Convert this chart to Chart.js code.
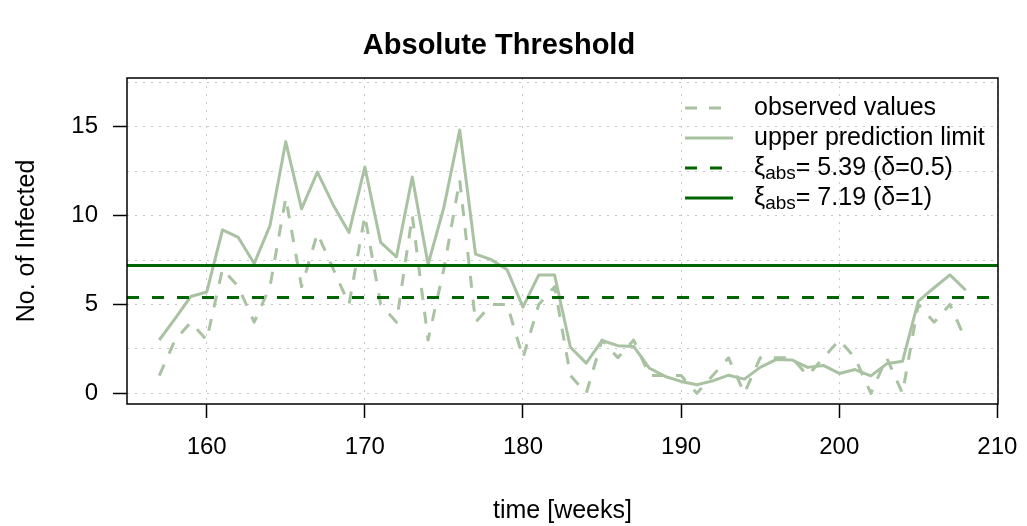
<!DOCTYPE html>
<html>
<head>
<meta charset="utf-8">
<title>Absolute Threshold</title>
<script src="https://cdn.jsdelivr.net/npm/chart.js@4"></script>
<style>
  html, body { margin: 0; padding: 0; background: #fff; }
</style>
</head>
<body>
<canvas id="my-chart" width="1027" height="526"></canvas>
<script>
'use strict';

//***********Data***********
let weeks = [157, 158, 159, 160, 161, 162, 163, 164, 165, 166, 167, 168, 169,
  170, 171, 172, 173, 174, 175, 176, 177, 178, 179, 180, 181, 182, 183,
  184, 185, 186, 187, 188, 189, 190, 191, 192, 193, 194, 195, 196, 197,
  198, 199, 200, 201, 202, 203, 204, 205, 206, 207, 208];

let observed = [1, 3, 4, 3, 7, 6, 4, 6, 11, 6, 9, 7, 5,
  10, 5, 4, 10, 3, 7, 12, 4, 5, 5, 2, 5, 6, 1,
  0, 3, 2, 3, 1, 1, 1, 0, 1, 2, 0, 2, 2, 2,
  1, 2, 3, 2, 0, 2, 0, 5, 4, 5, 3];

let upperLimit = [3.0, 4.2, 5.45, 5.7, 9.2, 8.77, 7.3, 9.43, 14.15, 10.38, 12.45, 10.6, 9.05,
  12.73, 8.49, 7.68, 12.17, 7.25, 10.47, 14.81, 7.83, 7.52, 6.95, 4.85, 6.66, 6.66, 2.59,
  1.7, 2.97, 2.68, 2.64, 1.41, 0.95, 0.67, 0.48, 0.7, 1.02, 0.8, 1.46, 1.9, 1.88,
  1.46, 1.57, 1.12, 1.34, 0.98, 1.66, 1.8, 5.19, 5.94, 6.66, 5.8];

let thresholds = [5.39, 7.19];
let thresholdDeltas = ['0.5', '1'];

let xTicks = [160, 170, 180, 190, 200, 210];
let yTicks = [0, 5, 10, 15];
let yGrid = [0, 2.5, 5, 7.5, 10, 12.5, 15, 17.5];
let xLimits = [154.96, 210.04];
let yLimits = [-0.6, 17.74];

//***********Styles***********
let lightGreen = '#a8c2a2';
let darkGreen = '#006400';
let fontFamily = '"Liberation Sans", Arial, Helvetica, sans-serif';

//***********Helper functions***********
function toPoints(values) {
  return weeks.map((w, i) => ({ x: w, y: values[i] }));
}

function flatLine(value) {
  return [{ x: xLimits[0], y: value }, { x: xLimits[1], y: value }];
}

function thresholdParts(i) {
  return [
    { text: '\u03BE', sub: false },
    { text: 'abs', sub: true },
    { text: '= ' + thresholds[i].toFixed(2) + ' (\u03B4=' + thresholdDeltas[i] + ')', sub: false }
  ];
}

// box round the plot and the legend (R style, with subscripts)
let boxAndLegend = {
  id: 'boxAndLegend',
  afterDatasetsDraw(chart) {
    let ctx = chart.ctx;
    let area = chart.chartArea;
    ctx.save();
    ctx.strokeStyle = '#000';
    ctx.lineWidth = 1.5;
    ctx.setLineDash([]);
    ctx.strokeRect(area.left, area.top, area.right - area.left, area.bottom - area.top);

    let lineX1 = area.right - 313;
    let lineX2 = area.right - 265;
    let textX = area.right - 244;
    let rowY = area.top + 30;
    let rowStep = 30;

    chart.data.datasets.forEach((ds, i) => {
      let y = rowY + i * rowStep;
      ctx.beginPath();
      ctx.strokeStyle = ds.borderColor;
      ctx.lineWidth = ds.borderWidth;
      ctx.setLineDash(ds.borderDash || []);
      ctx.moveTo(lineX1, y);
      ctx.lineTo(lineX2, y);
      ctx.stroke();

      ctx.setLineDash([]);
      ctx.fillStyle = '#000';
      ctx.textBaseline = 'middle';
      ctx.textAlign = 'left';
      let x = textX;
      ds.legendParts.forEach(part => {
        ctx.font = (part.sub ? '19px ' : '25px ') + fontFamily;
        ctx.fillText(part.text, x, part.sub ? y + 6 : y);
        x += ctx.measureText(part.text).width;
      });
    });
    ctx.restore();
  }
};

//***********Chart***********
let ctx = document.getElementById('my-chart').getContext('2d');

let myChartObj = {
  type: 'line',
  data: {
    datasets: [
      {
        label: 'observed values',
        legendParts: [{ text: 'observed values', sub: false }],
        data: toPoints(observed),
        borderColor: lightGreen,
        borderWidth: 3,
        borderDash: [12, 12],
        order: 3
      },
      {
        label: 'upper prediction limit',
        legendParts: [{ text: 'upper prediction limit', sub: false }],
        data: toPoints(upperLimit),
        borderColor: lightGreen,
        borderWidth: 3,
        order: 2
      },
      {
        label: '\u03BEabs= 5.39 (\u03B4=0.5)',
        legendParts: thresholdParts(0),
        data: flatLine(thresholds[0]),
        borderColor: darkGreen,
        borderWidth: 3,
        borderDash: [12, 13],
        order: 1
      },
      {
        label: '\u03BEabs= 7.19 (\u03B4=1)',
        legendParts: thresholdParts(1),
        data: flatLine(thresholds[1]),
        borderColor: darkGreen,
        borderWidth: 3,
        order: 0
      }
    ]
  },
  options: {
    responsive: false,
    animation: false,
    devicePixelRatio: 1,
    layout: { padding: { top: 0, right: 29, bottom: 0, left: 0 } },
    elements: {
      point: { radius: 0, hoverRadius: 0 },
      line: { tension: 0, fill: false, borderCapStyle: 'butt', borderJoinStyle: 'round' }
    },
    plugins: {
      legend: { display: false },
      tooltip: { enabled: false },
      title: {
        display: true,
        text: 'Absolute Threshold',
        color: '#000',
        font: { family: fontFamily, size: 29, weight: 'bold', lineHeight: 1 },
        padding: { top: 31, bottom: 18 }
      }
    },
    scales: {
      x: {
        type: 'linear',
        min: xLimits[0],
        max: xLimits[1],
        afterBuildTicks: scale => { scale.ticks = xTicks.map(v => ({ value: v })); },
        afterFit: scale => {
          scale.height = 122;
          scale.paddingLeft = 0;
          scale.paddingRight = 0;
        },
        ticks: {
          color: '#000',
          font: { family: fontFamily, size: 24 },
          padding: 15,
          autoSkip: false,
          maxRotation: 0
        },
        grid: {
          color: '#c8c8c8',
          lineWidth: 1,
          tickLength: 14,
          tickColor: '#000',
          tickWidth: 1.5,
          tickBorderDash: []
        },
        border: { display: false, dash: [2, 6] },
        title: {
          display: true,
          text: 'time [weeks]',
          color: '#000',
          font: { family: fontFamily, size: 25 },
          padding: { top: 0, bottom: 0 }
        }
      },
      y: {
        type: 'linear',
        min: yLimits[0],
        max: yLimits[1],
        afterBuildTicks: scale => { scale.ticks = yGrid.map(v => ({ value: v })); },
        afterFit: scale => { scale.width = 127; },
        ticks: {
          color: '#000',
          font: { family: fontFamily, size: 24 },
          padding: 15,
          autoSkip: false,
          callback: value => (yTicks.includes(value) ? String(value) : '')
        },
        grid: {
          color: '#c8c8c8',
          lineWidth: 1,
          tickLength: 14,
          tickColor: c => (yTicks.includes(c.tick.value) ? '#000' : 'rgba(0,0,0,0)'),
          tickWidth: 1.5,
          tickBorderDash: []
        },
        border: { display: false, dash: [2, 6] },
        title: {
          display: true,
          text: 'No. of Infected',
          color: '#000',
          font: { family: fontFamily, size: 25 },
          padding: { top: 12, bottom: 0 }
        }
      }
    }
  },
  plugins: [boxAndLegend]
};

new Chart(ctx, myChartObj);
</script>
</body>
</html>
